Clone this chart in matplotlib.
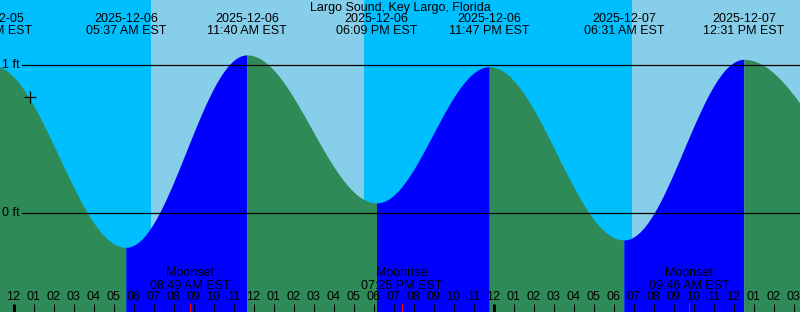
import numpy as np
import pandas as pd
import matplotlib
matplotlib.use("Agg")
import matplotlib.pyplot as plt

plt.rcParams['font.family'] = ['Liberation Sans', 'DejaVu Sans']

title = "Largo Sound, Key Largo, Florida"

# tide extremes (high / low)
tide_times = ["2025-12-05 22:55", "2025-12-06 05:37", "2025-12-06 11:40",
              "2025-12-06 18:09", "2025-12-06 23:47", "2025-12-07 06:31",
              "2025-12-07 12:31", "2025-12-07 19:40"]
tide_levels = [1.00, -0.23, 1.07, 0.07, 0.99, -0.18, 1.04, 0.15]

# sun: night/day switches (first entry is a sunrise)
sun_times = ["2025-12-06 06:52", "2025-12-06 17:32", "2025-12-07 06:55"]

# moon events
moon_times = ["2025-12-06 08:49", "2025-12-06 19:25", "2025-12-07 09:46"]
moon_events = ["Moonset", "Moonrise", "Moonset"]

# current time marker
now_time = "2025-12-06 00:49"
now_level = 0.786

level_lines = [1, 0]
level_labels = ["1 ft", "0 ft"]

y_range = (-0.667, 1.441)
fs = 9

base = pd.Timestamp("2025-12-06")


def hrs(t):
    return (pd.Timestamp(t) - base) / pd.Timedelta(hours=1)


night_col = "#00bfff"
day_col = "#87ceeb"
flood_col = "#0000ff"
ebb_col = "#2e8b57"

W, H = 800, 312
fig = plt.figure(figsize=(W / 100, H / 100), dpi=100)
ax = fig.add_axes([0, 0, 1, 1])
x0 = hrs("2025-12-05 23:19:30")
x1 = x0 + 40
ax.set_xlim(x0, x1)
ax.set_ylim(*y_range)
ax.axis('off')
xt = ax.get_xaxis_transform()

# --- sky background ---
edges = [x0] + [hrs(t) for t in sun_times] + [x1]
for i in range(len(edges) - 1):
    ax.axvspan(edges[i], edges[i + 1], color=night_col if i % 2 == 0 else day_col,
               lw=0, zorder=0)

# --- water (blue when rising, green when falling) ---
th = [hrs(t) for t in tide_times]
for i in range(len(th) - 1):
    tt = np.linspace(th[i], th[i + 1], 200)
    f = (tt - th[i]) / (th[i + 1] - th[i])
    lv = tide_levels[i] + (tide_levels[i + 1] - tide_levels[i]) * (1 - np.cos(np.pi * f)) / 2
    c = flood_col if tide_levels[i + 1] > tide_levels[i] else ebb_col
    ax.fill_between(tt, y_range[0], lv, color=c, lw=0, zorder=1)

# --- level lines ---
for lvl, lab in zip(level_lines, level_labels):
    ax.axhline(lvl, xmin=22 / W, xmax=1, color='black', lw=0.9, zorder=3)
    ax.text(20 / W, lvl, lab, transform=ax.get_yaxis_transform(), ha='right',
            va='center', fontsize=fs, zorder=4)

ax.plot([hrs(now_time)], [now_level], marker='+', color='black', ms=9, mew=0.9, zorder=4)

# --- title and extreme labels ---
ax.text(0.5, 1 - 7.5 / H, title, transform=ax.transAxes, ha='center', va='center', fontsize=fs)
for t in tide_times:
    ts = pd.Timestamp(t)
    ax.text(hrs(t), 1 - 19.5 / H, ts.strftime("%Y-%m-%d"), transform=xt,
            ha='center', va='center', fontsize=fs, zorder=4)
    ax.text(hrs(t), 1 - 31.5 / H, ts.strftime("%I:%M %p EST"), transform=xt,
            ha='center', va='center', fontsize=fs, zorder=4)

# --- moon events ---
for t, ev in zip(moon_times, moon_events):
    ts = pd.Timestamp(t)
    ax.text(hrs(t), 1 - 273.5 / H, ev, transform=xt, ha='center', va='center', fontsize=fs, zorder=4)
    ax.text(hrs(t), 1 - 286 / H, ts.strftime("%I:%M %p EST"), transform=xt,
            ha='center', va='center', fontsize=fs, zorder=4)
    ax.vlines(hrs(t), 0, 9 / H, transform=xt, color='red', lw=0.75, zorder=5)

# --- hour ticks ---
for h in range(int(np.floor(x0)), int(np.ceil(x1)) + 1):
    lab = "%02d" % (12 if h % 12 == 0 else h % 12)
    ax.text(h, 1 - 297.5 / H, lab, transform=xt, ha='center', va='center', fontsize=fs, zorder=4)
    ax.vlines(h, 0, 8 / H, transform=xt, color='black',
              lw=2.2 if h % 24 == 0 else 0.75, zorder=5)

plt.savefig('out.png', dpi=100)
